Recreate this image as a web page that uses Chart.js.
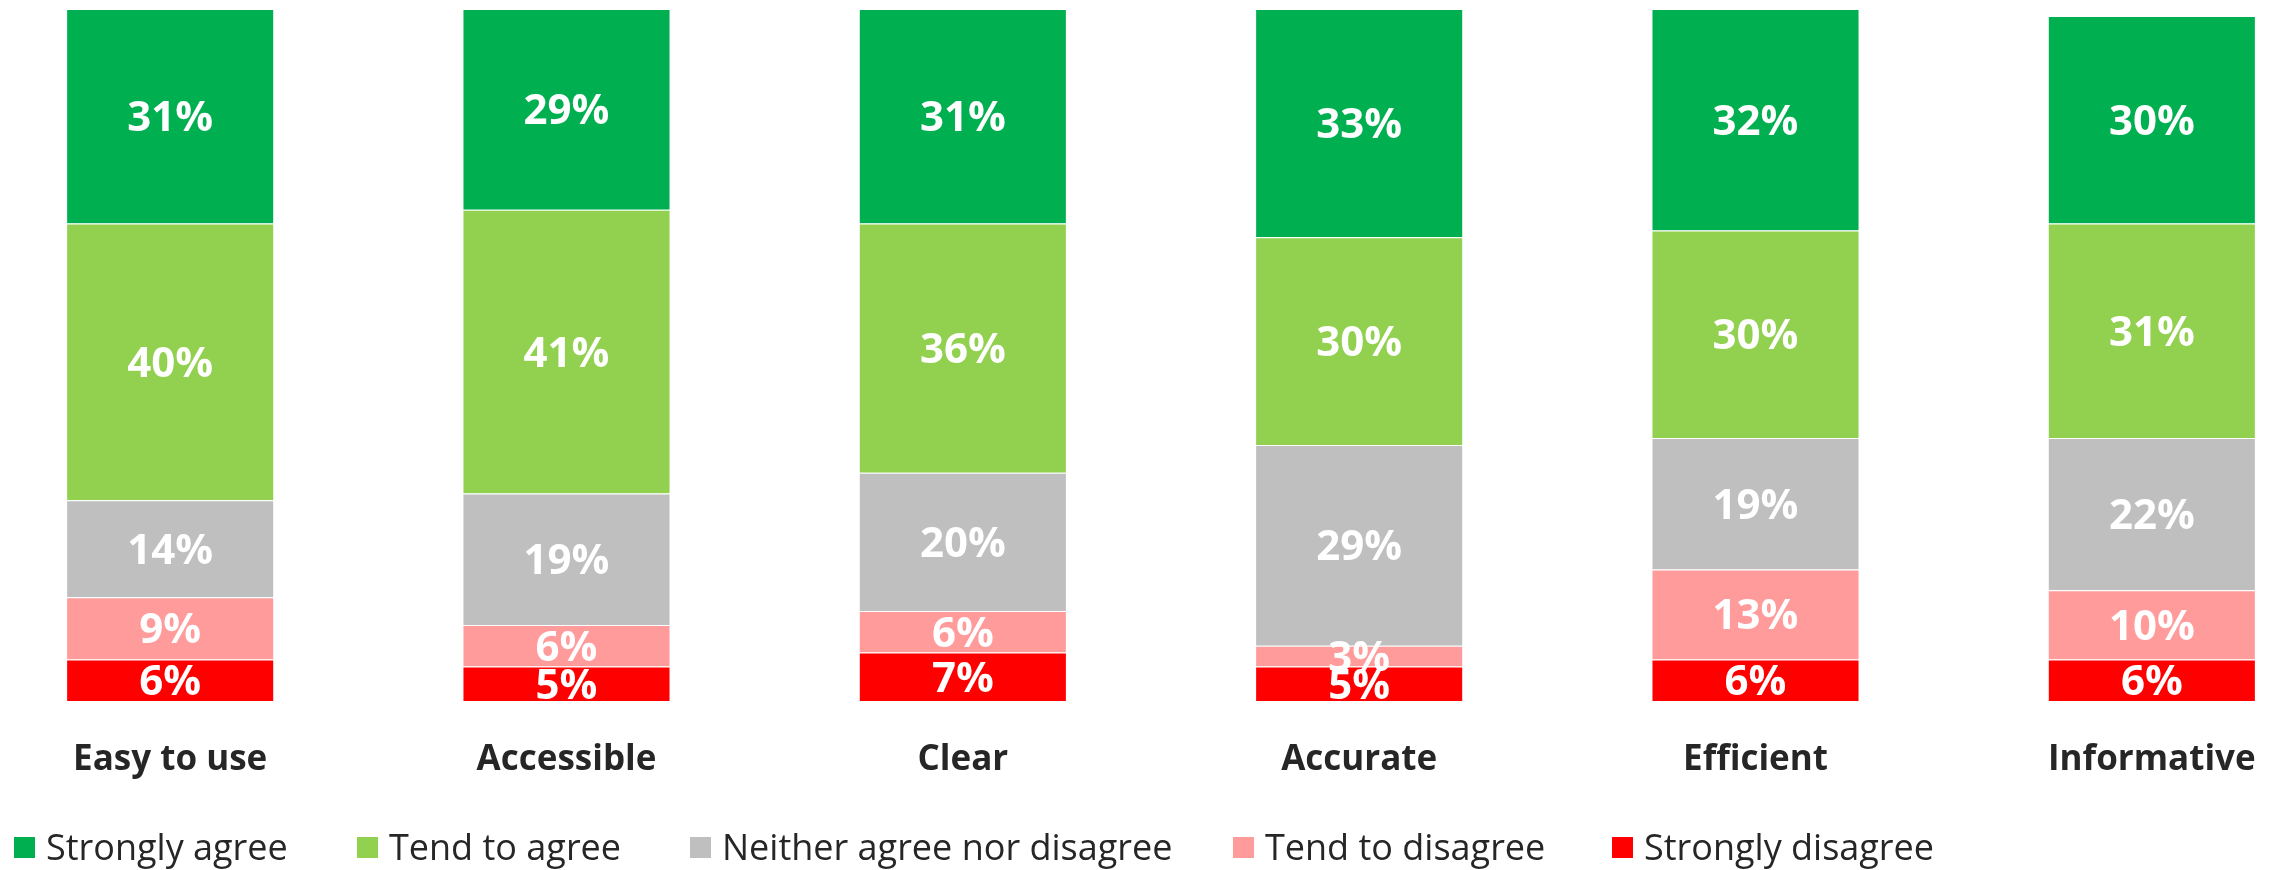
<!DOCTYPE html>
<html>
<head>
<meta charset="utf-8">
<script src="https://cdn.jsdelivr.net/npm/chart.js@4.4.1/dist/chart.umd.min.js"></script>
<style>
  html, body { margin: 0; padding: 0; background: #fff; overflow: hidden; width: 2269px; height: 870px; }
  #wrap { position: relative; width: 2269px; height: 870px; overflow: hidden; }
  #chart { position: absolute; left: -28px; top: 0; }
  #legend { position: absolute; left: 0; top: 0; width: 2269px; height: 870px; pointer-events: none;
            font-family: 'Open Sans', sans-serif; font-size: 36px; color: #262626; }
  .item { position: absolute; top: 826px; height: 42px; line-height: 42px; display: flex; align-items: center; white-space: nowrap; }
  .swatch { width: 21px; height: 21px; margin-right: 11px; flex: none; }
</style>
</head>
<body>
<div id="wrap">
  <canvas id="chart" width="2378" height="870"></canvas>
  <div id="legend"></div>
</div>
<script>
// Survey attributes along the x axis
const categories = ['Easy to use', 'Accessible', 'Clear', 'Accurate', 'Efficient', 'Informative'];

// Share of respondents (%) per answer
const stronglyAgree    = [31, 29, 31, 33, 32, 30];
const tendToAgree      = [40, 41, 36, 30, 30, 31];
const neitherAgree     = [14, 19, 20, 29, 19, 22];
const tendToDisagree   = [ 9,  6,  6,  3, 13, 10];
const stronglyDisagree = [ 6,  5,  7,  5,  6,  6];

// Series names in legend order
const seriesNames = ['Strongly agree', 'Tend to agree', 'Neither agree nor disagree', 'Tend to disagree', 'Strongly disagree'];

const seriesColors = ['#00B050', '#92D050', '#BFBFBF', '#FF9B9B', '#FF0000'];
const seriesValues = [stronglyAgree, tendToAgree, neitherAgree, tendToDisagree, stronglyDisagree];

// Left edge of each legend entry (px)
const legendLeft = [14, 357, 690, 1233, 1612];

// Stack from the bottom: "Strongly disagree" sits on the axis
const datasets = seriesNames.map((name, i) => ({
  label: name,
  data: seriesValues[i],
  backgroundColor: seriesColors[i],
  borderColor: '#FFFFFF',
  borderWidth: 1,
  borderSkipped: 'start',
  barPercentage: 0.525,
  categoryPercentage: 1
})).reverse();

// White percentage labels centred in each segment
const valueLabels = {
  id: 'valueLabels',
  afterDatasetsDraw(chart) {
    const ctx = chart.ctx;
    ctx.save();
    ctx.font = 'bold 42px "Open Sans"';
    ctx.fillStyle = '#FFFFFF';
    ctx.textAlign = 'center';
    ctx.textBaseline = 'middle';
    chart.data.datasets.forEach((ds, i) => {
      const meta = chart.getDatasetMeta(i);
      meta.data.forEach((bar, j) => {
        const p = bar.getProps(['x', 'y', 'base'], true);
        ctx.fillText(ds.data[j] + '%', p.x, (p.y + p.base) / 2 + 3);
      });
    });
    ctx.restore();
  }
};

const chart = new Chart(document.getElementById('chart'), {
  type: 'bar',
  data: { labels: categories, datasets },
  options: {
    responsive: false,
    animation: false,
    devicePixelRatio: 1,
    layout: { padding: { top: 9, bottom: 51, left: 0, right: 0 } },
    plugins: { legend: { display: false }, tooltip: { enabled: false } },
    scales: {
      x: {
        stacked: true,
        grid: { display: false, drawTicks: false },
        border: { display: false },
        ticks: {
          padding: 38,
          maxRotation: 0,
          autoSkip: false,
          color: '#262626',
          font: { family: 'Open Sans', weight: 'bold', size: 35, lineHeight: 1.2 }
        }
      },
      y: { stacked: true, display: false, min: 0, max: 100 }
    }
  },
  plugins: [valueLabels]
});

// Legend built from the series names and colours
const legend = document.getElementById('legend');
seriesNames.forEach((name, i) => {
  const item = document.createElement('div');
  item.className = 'item';
  item.style.left = legendLeft[i] + 'px';
  const sw = document.createElement('span');
  sw.className = 'swatch';
  sw.style.background = seriesColors[i];
  const txt = document.createElement('span');
  txt.textContent = name;
  item.appendChild(sw);
  item.appendChild(txt);
  legend.appendChild(item);
});
</script>
</body>
</html>
